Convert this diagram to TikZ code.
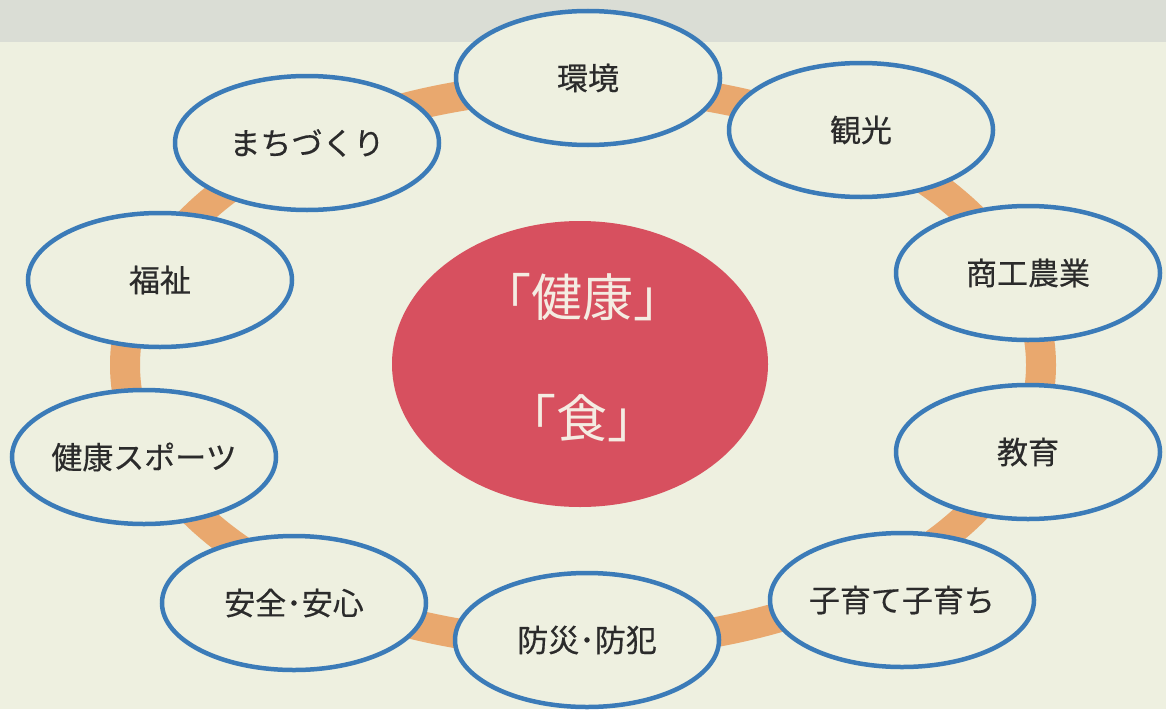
\documentclass[tikz,border=0pt]{standalone}
\usepackage{fontspec}
\newfontfamily\jp{Noto Sans CJK JP}
\newfontfamily\jpb[FakeBold=0.4]{Noto Sans CJK JP}
\usetikzlibrary{shapes.geometric}
\definecolor{bg}{HTML}{EEF0E0}
\definecolor{band}{HTML}{DADDD5}
\definecolor{ringorange}{HTML}{E9A86E}
\definecolor{ringblue}{HTML}{3B7BB8}
\definecolor{corered}{HTML}{D7505F}
\definecolor{coretext}{HTML}{F4ECE2}
\definecolor{labeltext}{HTML}{2B2B2B}
\begin{document}
\begin{tikzpicture}[x=1pt,y=-1pt,
  topic/.style={ellipse, draw=ringblue, line width=4.5pt, fill=bg,
    minimum width=264pt, minimum height=134pt, inner sep=0pt,
    font=\jpb\fontsize{31}{31}\selectfont, text=labeltext},
  core/.style={ellipse, fill=corered, minimum width=376pt, minimum height=286pt, inner sep=0pt},
  coretxt/.style={font=\jp\fontsize{51}{51}\selectfont, text=coretext, inner sep=0pt},
  ring/.style={draw=ringorange, line width=30pt}
]
\fill[bg] (0,0) rectangle (1166,709);
\fill[band] (0,0) rectangle (1166,42);
\useasboundingbox (0,0) rectangle (1166,709);

% ring
\draw[ring] (583,365) ellipse [x radius=458, y radius=279];

% centre
\node[core] (core) at (580,364) {};
\node[coretxt] (kenko) at (582,297) {「健康」};
\node[coretxt] (shoku) at (582,418) {「食」};

% topics
\node[topic] (kankyo)  at (588,78)  {環境};
\node[topic] (kanko)   at (861,130) {観光};
\node[topic] (shoko)   at (1028,273) {商工農業};
\node[topic] (kyoiku)  at (1028,452) {教育};
\node[topic] (kosodate) at (902,600) {子育て子育ち};
\node[topic] (bosai)   at (587,640) {防災･防犯};
\node[topic] (anzen)   at (294,603) {安全･安心};
\node[topic] (sports)  at (144,457) {健康スポーツ};
\node[topic] (fukushi) at (160,280) {福祉};
\node[topic] (machi)   at (307,143) {まちづくり};
\end{tikzpicture}
\end{document}
